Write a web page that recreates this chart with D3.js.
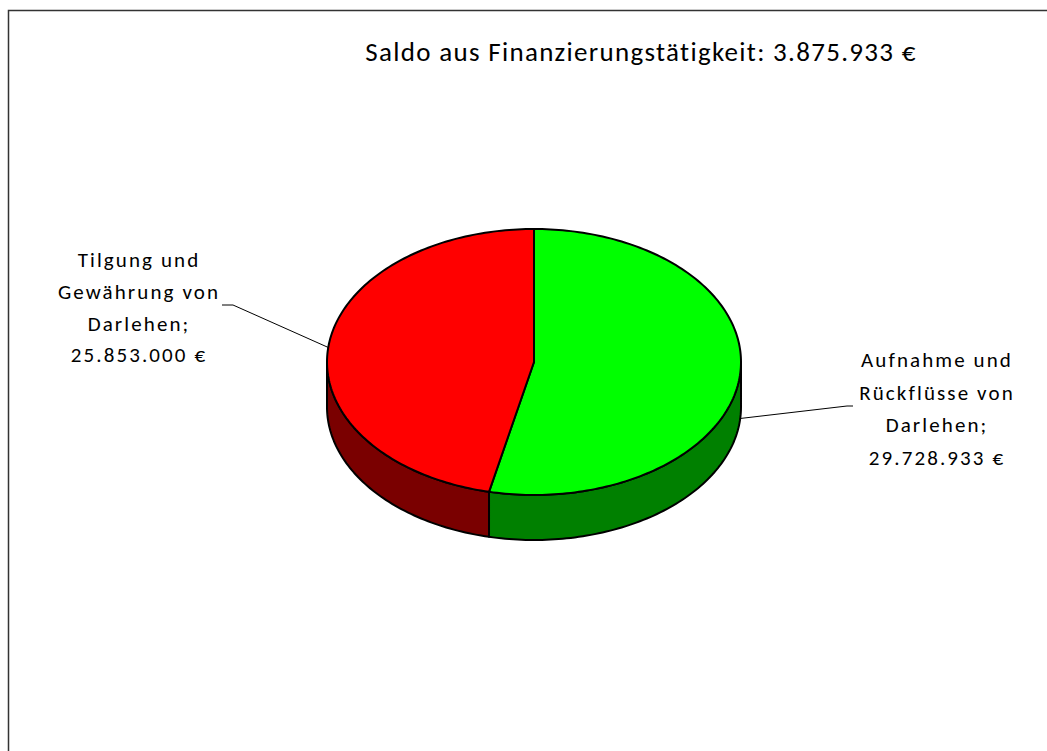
<!DOCTYPE html>
<html lang="de">
<head>
  <meta charset="UTF-8" />
  <title>Saldo aus Finanzierungstätigkeit</title>
  <script src="https://d3js.org/d3.v7.min.js"></script>
  <style>
    body { margin: 0; background: #fff; }
    text { font-family: Carlito, Calibri, Lato, sans-serif; fill: #000; }
  </style>
</head>
<body>
  <svg id="chart" width="1047" height="751"></svg>
  <script>
    // data
    const categories = ["Aufnahme und Rückflüsse von Darlehen", "Tilgung und Gewährung von Darlehen"];
    const values = [29728933, 25853000];
    const labelLines = [
      ["Aufnahme und", "Rückflüsse von", "Darlehen;", "29.728.933 €"],
      ["Tilgung und", "Gewährung von", "Darlehen;", "25.853.000 €"]
    ];
    const titleText = "Saldo aus Finanzierungstätigkeit: 3.875.933 €";

    const svg = d3.select("svg#chart");
    const width = +svg.attr("width");
    const height = +svg.attr("height");

    // frame
    svg.append("rect")
      .attr("x", 8.5).attr("y", 10.5)
      .attr("width", 1100).attr("height", 800)
      .attr("fill", "none")
      .attr("stroke", "#333")
      .attr("stroke-width", 1.5);

    svg.append("text")
      .attr("x", 641).attr("y", 61)
      .attr("text-anchor", "middle")
      .attr("font-size", 27)
      .attr("letter-spacing", 1.3)
      .text(titleText);

    const cx = 534, cy = 362, rx = 207, ry = 133, depth = 45;
    const topColors = d3.scaleOrdinal().domain(categories).range(["#00ff00", "#ff0000"]);
    const sideColors = d3.scaleOrdinal().domain(categories).range(["#008000", "#7a0000"]);

    // angle measured clockwise from 12 o'clock
    const px = a => cx + rx * Math.sin(a);
    const py = (a, dy = 0) => cy - ry * Math.cos(a) + dy;

    function arcPts(a0, a1, dy) {
      const n = Math.max(2, Math.ceil(Math.abs(a1 - a0) / 0.02));
      return d3.range(n + 1).map(i => {
        const a = a0 + (a1 - a0) * i / n;
        return [px(a), py(a, dy)];
      });
    }

    const pie = d3.pie().sort(null).value(d => d.value);
    const arcs = pie(categories.map((c, i) => ({ name: c, value: values[i], lines: labelLines[i] })));

    const line = d3.line();
    const g = svg.append("g");

    // front side walls (visible between 90° and 270°)
    arcs.forEach(d => {
      const a0 = Math.max(d.startAngle, Math.PI / 2);
      const a1 = Math.min(d.endAngle, 3 * Math.PI / 2);
      if (a1 <= a0) return;
      const pts = arcPts(a0, a1, 0).concat(arcPts(a1, a0, depth));
      g.append("path")
        .attr("d", line(pts) + "Z")
        .attr("fill", sideColors(d.data.name))
        .attr("stroke", "#000")
        .attr("stroke-width", 2)
        .attr("stroke-linejoin", "round");
    });

    // top faces
    arcs.forEach(d => {
      const pts = [[cx, cy]].concat(arcPts(d.startAngle, d.endAngle, 0));
      g.append("path")
        .attr("d", line(pts) + "Z")
        .attr("fill", topColors(d.data.name))
        .attr("stroke", "#000")
        .attr("stroke-width", 2)
        .attr("stroke-linejoin", "round");
    });

    // labels with leader lines
    const labelPos = [
      { x: 937, y: 367, step: 32.6, elbow: [847, 406], end: [853, 406], dy: 42 },
      { x: 139, y: 267, step: 31.8, elbow: [233, 305], end: [222, 305], dy: 0 }
    ];
    arcs.forEach((d, i) => {
      const mid = (d.startAngle + d.endAngle) / 2;
      const p = labelPos[i];
      svg.append("path")
        .attr("d", line([[px(mid), py(mid, p.dy)], p.elbow, p.end]))
        .attr("fill", "none")
        .attr("stroke", "#000")
        .attr("stroke-width", 1);
      const t = svg.append("text")
        .attr("text-anchor", "middle")
        .attr("font-size", 21)
        .attr("letter-spacing", 2.1);
      d.data.lines.forEach((s, j) => {
        t.append("tspan")
          .attr("x", p.x)
          .attr("y", p.y + j * p.step)
          .text(s);
      });
    });
  </script>
</body>
</html>
